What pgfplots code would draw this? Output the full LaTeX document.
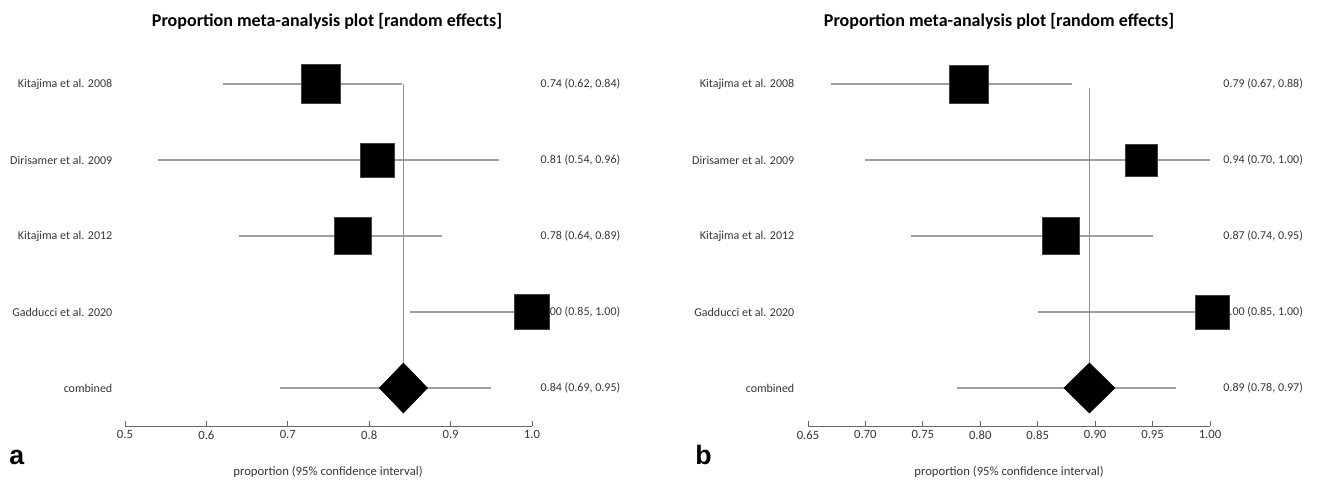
\documentclass[border=0pt]{standalone}
\usepackage{pgfplots}
\pgfplotsset{compat=1.18}
\usepackage{fontspec}
\setmainfont{Carlito}
\newfontfamily\panelfont{Liberation Sans}
\definecolor{cil}{RGB}{160,160,160}
\definecolor{vl}{RGB}{145,145,145}
\definecolor{txt}{RGB}{55,55,55}
\pgfplotsset{
  forest/.style={
    scale only axis, height=285pt, ymin=0.5, ymax=5.5,
    hide y axis, axis x line=bottom, clip=false,
    x axis line style={-, draw=black!60, line width=0.6pt},
    tick align=inside, major tick length=4pt,
    tick style={draw=black!60, line width=0.6pt},
    xticklabel style={font=\fontsize{9.5}{11}\selectfont, text=txt},
    ci/.style={cil, line width=1.4pt},
    sq/.style={only marks, mark=square*, mark options={fill=black, draw=black!75, line width=0.4pt}},
  }
}
\begin{document}
\begin{tikzpicture}[x=1pt,y=1pt]
\path (0,0) rectangle (989.25,360.75);
% ---------- panel a ----------
\begin{axis}[forest, at={(93.75pt,41.25pt)}, anchor=south west,
  width=305.25pt, xmin=0.5, xmax=1.0,
  xtick={0.5,0.6,0.7,0.8,0.9,1.0}, xticklabels={0.5,0.6,0.7,0.8,0.9,1.0}]
\addplot[ci] coordinates {(0.62,5) (0.84,5)};
\addplot[ci] coordinates {(0.54,4) (0.96,4)};
\addplot[ci] coordinates {(0.64,3) (0.89,3)};
\addplot[ci] coordinates {(0.85,2) (1.00,2)};
\addplot[ci] coordinates {(0.69,1) (0.95,1)};
\addplot[vl, line width=0.7pt] coordinates {(0.842,5) (0.842,1.3)};
\begin{scope}[every node/.style={font=\fontsize{9}{11}\selectfont, text=txt}]
\node[anchor=east, xshift=-6pt] at (axis cs:0.5,5) {Kitajima et al. 2008};
\node[anchor=east, xshift=-6pt] at (axis cs:0.5,4) {Dirisamer et al. 2009};
\node[anchor=east, xshift=-6pt] at (axis cs:0.5,3) {Kitajima et al. 2012};
\node[anchor=east, xshift=-6pt] at (axis cs:0.5,2) {Gadducci et al. 2020};
\node[anchor=east, xshift=-6pt] at (axis cs:0.5,1) {combined};
\node[anchor=west, xshift=3pt] at (axis cs:1.0,5) {0.74 (0.62, 0.84)};
\node[anchor=west, xshift=3pt] at (axis cs:1.0,4) {0.81 (0.54, 0.96)};
\node[anchor=west, xshift=3pt] at (axis cs:1.0,3) {0.78 (0.64, 0.89)};
\node[anchor=west, xshift=3pt] at (axis cs:1.0,2) {1.00 (0.85, 1.00)};
\node[anchor=west, xshift=3pt] at (axis cs:1.0,1) {0.84 (0.69, 0.95)};
\end{scope}
\addplot[sq, mark size=14.6pt] coordinates {(0.74,5)};
\addplot[sq, mark size=12.8pt] coordinates {(0.81,4)};
\addplot[sq, mark size=13.9pt] coordinates {(0.78,3)};
\addplot[sq, mark size=13.1pt] coordinates {(1.00,2)};
\addplot[fill=black, draw=black] coordinates {(0.8125,1) (0.842,1.329) (0.8715,1) (0.842,0.671) (0.8125,1)};
\end{axis}
% ---------- panel b ----------
\begin{axis}[forest, at={(606pt,41.25pt)}, anchor=south west,
  width=301.5pt, xmin=0.65, xmax=1.0,
  xtick={0.65,0.70,0.75,0.80,0.85,0.90,0.95,1.00},
  xticklabels={0.65,0.70,0.75,0.80,0.85,0.90,0.95,1.00}]
\addplot[ci] coordinates {(0.67,5) (0.88,5)};
\addplot[ci] coordinates {(0.70,4) (1.00,4)};
\addplot[ci] coordinates {(0.74,3) (0.95,3)};
\addplot[ci] coordinates {(0.85,2) (1.00,2)};
\addplot[ci] coordinates {(0.78,1) (0.97,1)};
\addplot[vl, line width=0.7pt] coordinates {(0.895,4.95) (0.895,1.3)};
\begin{scope}[every node/.style={font=\fontsize{9}{11}\selectfont, text=txt}]
\node[anchor=east, xshift=-6.75pt] at (axis cs:0.65,5) {Kitajima et al. 2008};
\node[anchor=east, xshift=-6.75pt] at (axis cs:0.65,4) {Dirisamer et al. 2009};
\node[anchor=east, xshift=-6.75pt] at (axis cs:0.65,3) {Kitajima et al. 2012};
\node[anchor=east, xshift=-6.75pt] at (axis cs:0.65,2) {Gadducci et al. 2020};
\node[anchor=east, xshift=-6.75pt] at (axis cs:0.65,1) {combined};
\node[anchor=west, xshift=6.5pt] at (axis cs:1.0,5) {0.79 (0.67, 0.88)};
\node[anchor=west, xshift=6.5pt] at (axis cs:1.0,4) {0.94 (0.70, 1.00)};
\node[anchor=west, xshift=6.5pt] at (axis cs:1.0,3) {0.87 (0.74, 0.95)};
\node[anchor=west, xshift=6.5pt] at (axis cs:1.0,2) {1.00 (0.85, 1.00)};
\node[anchor=west, xshift=6.5pt] at (axis cs:1.0,1) {0.89 (0.78, 0.97)};
\end{scope}
\addplot[sq, mark size=14.3pt] coordinates {(0.79,5)};
\addplot[sq, mark size=12pt] coordinates {(0.94,4)};
\addplot[sq, mark size=13.9pt] coordinates {(0.87,3)};
\addplot[sq, mark size=12.6pt] coordinates {(1.002,2)};
\addplot[fill=black, draw=black] coordinates {(0.8728,1) (0.895,1.329) (0.9172,1) (0.895,0.671) (0.8728,1)};
\end{axis}
% ---------- titles and labels ----------
\node[font=\bfseries\fontsize{13.5}{15}\selectfont] at (245.25,345) {Proportion meta-analysis plot [random effects]};
\node[font=\bfseries\fontsize{13.5}{15}\selectfont] at (749.25,345) {Proportion meta-analysis plot [random effects]};
\node[font=\fontsize{9.5}{11}\selectfont, text=txt] at (246,6.75) {proportion (95\% confidence interval)};
\node[font=\fontsize{9.5}{11}\selectfont, text=txt] at (756.75,6.75) {proportion (95\% confidence interval)};
\node[font=\panelfont\bfseries\fontsize{20}{22}\selectfont, anchor=base west, inner sep=0pt] at (6.75,12) {a};
\node[font=\panelfont\bfseries\fontsize{20}{22}\selectfont, anchor=base west, inner sep=0pt] at (521.25,12) {b};
\end{tikzpicture}
\end{document}
